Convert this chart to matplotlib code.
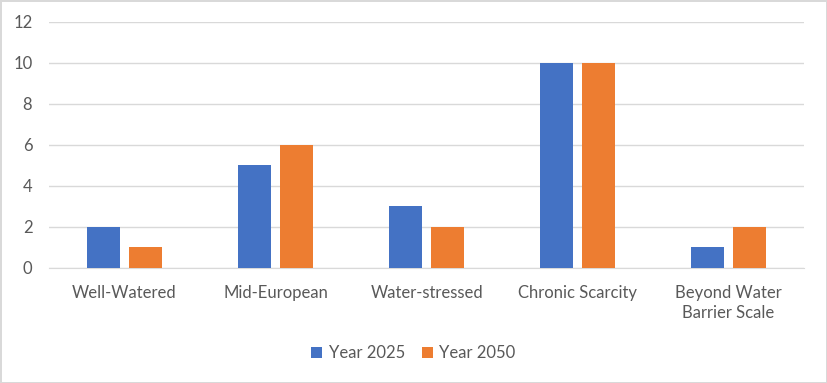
import matplotlib
matplotlib.use('Agg')
import matplotlib.pyplot as plt
import numpy as np

categories = ['Well-Watered', 'Mid-European', 'Water-stressed', 'Chronic Scarcity', 'Beyond Water\nBarrier Scale']
year_2025 = [2, 5, 3, 10, 1]
year_2050 = [1, 6, 2, 10, 2]

plt.rcParams['font.family'] = ['Lato', 'DejaVu Sans']
txt = '#595959'

fig = plt.figure(figsize=(8.27, 3.83), dpi=100)
fig.patch.set_edgecolor('#D9D9D9')
fig.patch.set_linewidth(2)
ax = fig.add_axes([0.0593, 0.3003, 0.913, 0.6423])

x = np.arange(len(categories))
w = 0.22
ax.bar(x - 0.14, year_2025, w, color='#4472C4', label='Year 2025', zorder=3)
ax.bar(x + 0.14, year_2050, w, color='#ED7D31', label='Year 2050', zorder=3)

ax.set_xlim(-0.5, len(categories) - 0.5)
ax.set_ylim(0, 12)
ax.set_yticks(range(0, 13, 2))
ax.yaxis.grid(True, color='#D9D9D9', linewidth=1, zorder=0)
for s in ['top', 'right', 'left']:
    ax.spines[s].set_visible(False)
ax.spines['bottom'].set_color('#D9D9D9')
ax.tick_params(axis='both', length=0, colors=txt, labelsize=12)
ax.tick_params(axis='y', pad=12)
ax.tick_params(axis='x', pad=12)
ax.set_xticks(x)
ax.set_xticklabels(categories, linespacing=1.35)

fig.legend(loc='center', bbox_to_anchor=(0.5, 0.078), ncol=2, frameon=False,
           fontsize=12, labelcolor=txt, handlelength=0.65, handleheight=0.65,
           columnspacing=1.0, handletextpad=0.4)

fig.savefig('out.png', dpi=100)
